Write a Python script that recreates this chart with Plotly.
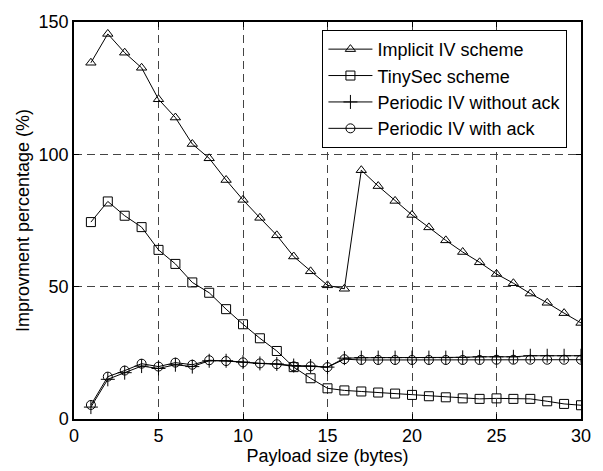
import plotly.graph_objects as go

payload = list(range(1, 31))

implicit_iv = [134.6, 145.5, 138.4, 132.7, 120.8, 113.9, 103.9, 98.5, 90.3, 82.8,
               76.0, 69.4, 61.4, 55.8, 50.5, 49.2, 94.0, 88.0, 82.4, 77.1,
               72.4, 67.5, 63.1, 59.2, 54.8, 51.3, 47.4, 43.9, 40.0, 36.3]
tinysec = [74.4, 82.2, 76.8, 72.5, 63.9, 58.6, 51.6, 47.7, 41.5, 35.8,
           30.5, 25.7, 19.6, 15.4, 11.6, 10.8, 10.4, 10.0, 9.6, 9.1,
           8.6, 8.2, 7.8, 7.6, 7.8, 7.6, 7.6, 6.7, 5.7, 5.2]
periodic_no_ack = [4.5, 15.0, 17.5, 20.0, 19.1, 20.5, 19.8, 22.0, 22.0, 21.5,
                   21.0, 20.8, 20.2, 20.0, 19.6, 23.0, 23.2, 23.2, 23.2, 23.2,
                   23.2, 23.2, 23.3, 23.5, 23.5, 23.5, 23.9, 23.9, 23.9, 23.9]
periodic_ack = [5.3, 16.0, 18.3, 20.9, 19.8, 21.3, 20.5, 22.2, 21.9, 21.4,
                21.0, 20.7, 19.9, 19.9, 19.6, 22.6, 22.3, 22.3, 22.3, 22.3,
                22.3, 22.3, 22.3, 22.3, 22.4, 22.4, 22.4, 22.4, 22.4, 22.4]

series = [
    ("Implicit IV scheme", implicit_iv, "triangle-up-open", 9),
    ("TinySec scheme", tinysec, "square-open", 9),
    ("Periodic IV without ack", periodic_no_ack, "cross-thin", 10),
    ("Periodic IV with ack", periodic_ack, "circle-open", 9),
]

FONT = "Liberation Sans"

fig = go.Figure()
for name, vals, sym, size in series:
    fig.add_trace(go.Scatter(
        x=payload, y=vals, name=name, mode="lines+markers",
        line=dict(color="black", width=1),
        marker=dict(symbol=sym, size=size, color="black",
                    line=dict(color="black", width=1)),
    ))

axis_common = dict(
    showline=True, linecolor="black", linewidth=1.5, mirror="ticks",
    ticks="inside", ticklen=5, tickcolor="black",
    showgrid=True, gridcolor="#444444", griddash="8px,5px", gridwidth=1,
    zeroline=False,
    tickfont=dict(family=FONT, size=18, color="black"),
)

fig.update_xaxes(range=[0, 30], dtick=5,
                 title=dict(text="Payload size (bytes)", standoff=0,
                            font=dict(family=FONT, size=18, color="black")),
                 **axis_common)
fig.update_yaxes(range=[0, 150], dtick=50,
                 title=dict(text="Improvment percentage (%)", standoff=4,
                            font=dict(family=FONT, size=18, color="black")),
                 **axis_common)

fig.update_layout(
    width=603, height=471,
    margin=dict(l=74, r=12, t=15, b=49),
    paper_bgcolor="white", plot_bgcolor="white",
    font=dict(family=FONT, color="black"),
    legend=dict(x=0.49, y=0.98, xanchor="left", yanchor="top",
                bgcolor="white", bordercolor="black", borderwidth=1,
                font=dict(family=FONT, size=18, color="black"),
                tracegroupgap=0, itemwidth=44),
)

fig.write_html("out.html")
